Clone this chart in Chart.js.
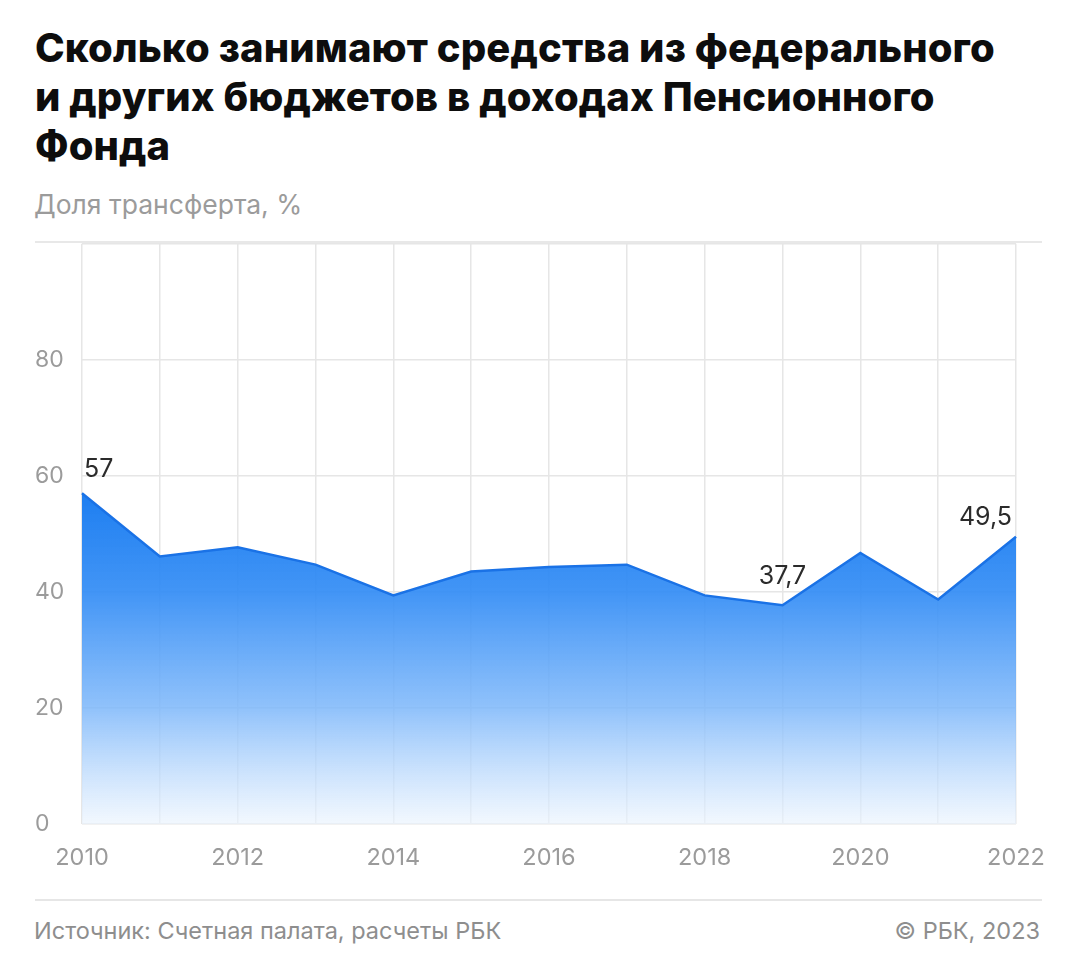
<!DOCTYPE html>
<html><head><meta charset="utf-8">
<script src="https://cdn.jsdelivr.net/npm/chart.js@4/dist/chart.umd.min.js"></script>
<style>
html,body{margin:0;padding:0;background:#fff;width:1072px;height:972px;overflow:hidden;font-family:Inter,Roboto,"Noto Sans",sans-serif;}
#title{position:absolute;left:35px;top:23px;white-space:nowrap;font-weight:800;font-size:40px;line-height:49px;color:#0d0d0d;letter-spacing:0.1px;}
#sub{position:absolute;left:34px;top:188px;font-size:26.5px;line-height:32px;color:#9b9b9b;}
#topline{position:absolute;left:35px;top:241px;width:1007px;height:2px;background:#e8e8e8;}
#wrap{position:absolute;left:35px;top:230px;width:1010px;height:649px;}
#footline{position:absolute;left:35px;top:899px;width:1007px;height:2px;background:#e6e6e6;}
#src{position:absolute;left:34px;top:917px;font-size:23.5px;line-height:28px;color:#8e8e8e;}
#copy{position:absolute;right:32px;top:917px;font-size:23.5px;line-height:28px;color:#8e8e8e;}
</style></head>
<body>
<div id="title">Сколько занимают средства из федерального<br>и других бюджетов в доходах Пенсионного<br>Фонда</div>
<div id="sub">Доля трансферта, %</div>
<div id="topline"></div>
<div id="wrap"><canvas id="c"></canvas></div>
<div id="footline"></div>
<div id="src">Источник: Счетная палата, расчеты РБК</div>
<div id="copy">© РБК, 2023</div>
<script>
const years = ['2010','2011','2012','2013','2014','2015','2016','2017','2018','2019','2020','2021','2022'];
const shares = [57, 46.1, 47.7, 44.7, 39.4, 43.5, 44.3, 44.7, 39.4, 37.7, 46.7, 38.7, 49.5];
const labelTexts = ['57','','','','','','','','','37,7','','','49,5'];
const yTicks = [0, 20, 40, 60, 80, 100];

const labelPlugin = {
  id: 'valueLabels',
  afterDatasetsDraw(chart) {
    const ctx = chart.ctx;
    const meta = chart.getDatasetMeta(0);
    ctx.save();
    ctx.font = '25px Inter';
    ctx.fillStyle = '#2b2b2b';
    ctx.textBaseline = 'middle';
    meta.data.forEach((pt, i) => {
      const t = labelTexts[i];
      if (!t) return;
      let align = 'center', dx = 0, dy = -29;
      if (i === 0) { align = 'left'; dx = 2; dy = -24; }
      if (i === shares.length - 1) { align = 'right'; dx = -4; dy = -19; }
      ctx.textAlign = align;
      ctx.fillText(t, pt.x + dx, pt.y + dy);
    });
    ctx.restore();
  }
};

new Chart(document.getElementById('c'), {
  type: 'line',
  data: {
    labels: years,
    datasets: [{
      data: shares,
      borderColor: '#1a72e6',
      borderWidth: 2.5,
      pointRadius: 0,
      tension: 0,
      fill: 'origin',
      backgroundColor: (context) => {
        const chart = context.chart;
        const {ctx, chartArea, scales} = chart;
        if (!chartArea) return 'rgba(30,128,240,0.8)';
        const yTop = scales.y.getPixelForValue(57);
        const yBot = scales.y.getPixelForValue(0);
        const g = ctx.createLinearGradient(0, yTop, 0, yBot);
        g.addColorStop(0, 'rgba(22,122,240,0.97)');
        g.addColorStop(0.3, 'rgba(50,140,245,0.92)');
        g.addColorStop(0.65, 'rgba(125,183,250,0.85)');
        g.addColorStop(1, 'rgba(235,244,254,0.65)');
        return g;
      }
    }]
  },
  options: {
    responsive: true,
    maintainAspectRatio: false,
    animation: false,
    layout: { padding: { top: 12, right: 29, left: 0, bottom: 0 } },
    plugins: { legend: { display: false }, tooltip: { enabled: false } },
    scales: {
      x: {
        offset: false,
        grid: { color: '#e6e6e6', lineWidth: 1.5, drawTicks: false },
        border: { display: false },
        ticks: {
          autoSkip: false, maxRotation: 0, padding: 20,
          color: '#9b9b9b', font: { family: 'Inter', size: 23.5 },
          callback: function(v, i) { return i % 2 === 0 ? years[i] : ''; }
        },
        afterFit(s) { s.height = 55; s.paddingRight = 0; s.paddingLeft = 0; }
      },
      y: {
        min: 0, max: 100,
        afterBuildTicks(s) { s.ticks = yTicks.map(v => ({ value: v })); },
        grid: { color: '#e6e6e6', lineWidth: 1.5, drawTicks: false },
        border: { display: false },
        ticks: {
          crossAlign: 'far', padding: 0,
          color: '#9b9b9b', font: { family: 'Inter', size: 23 },
          callback: (v) => v === 100 ? '' : String(v)
        },
        afterFit(s) { s.width = 47; }
      }
    }
  },
  plugins: [labelPlugin]
});
</script>
</body></html>
